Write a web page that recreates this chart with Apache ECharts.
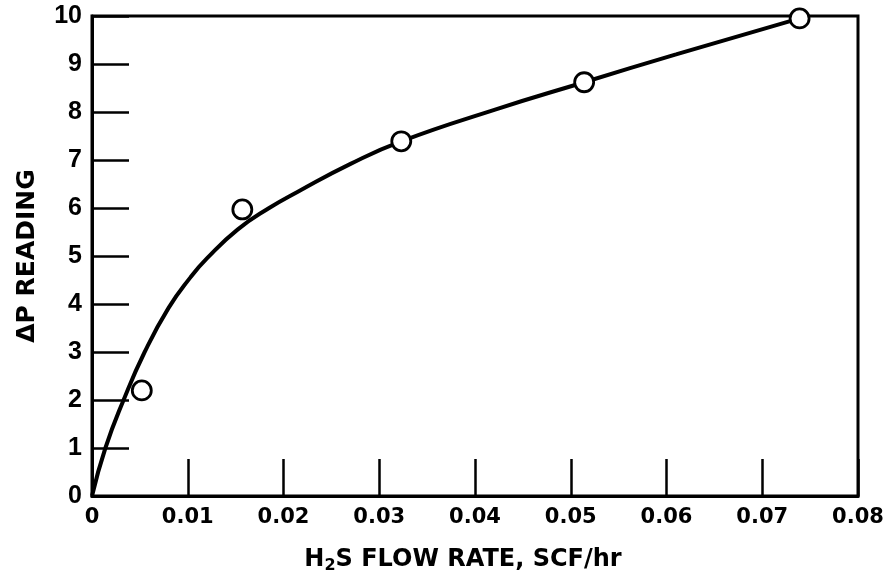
<!DOCTYPE html>
<html>
<head>
<meta charset="utf-8">
<script src="https://cdn.jsdelivr.net/npm/echarts@6/dist/echarts.min.js"></script>
<style>html,body{margin:0;padding:0;background:#fff;}#c{width:887px;height:579px;}</style>
</head>
<body>
<div id="c"></div>
<script>
// Measured data points (H2S flow rate, ΔP reading)
const pointX = [0.0052, 0.0157, 0.0323, 0.0514, 0.0739];
const pointY = [2.2, 5.97, 7.39, 8.62, 9.95];
// Fitted curve
const curveX = [0, 0.0014, 0.0033, 0.0055, 0.008, 0.0103, 0.012, 0.0152, 0.0185, 0.0215, 0.027, 0.0323, 0.0421, 0.0514, 0.061, 0.0739];
const curveY = [0, 1, 2, 3, 3.92, 4.56, 4.95, 5.55, 6.0, 6.34, 6.92, 7.39, 8.05, 8.62, 9.2, 9.95];
const xTicks = [0, 0.01, 0.02, 0.03, 0.04, 0.05, 0.06, 0.07, 0.08];
const yTicks = [0, 1, 2, 3, 4, 5, 6, 7, 8, 9, 10];

const wide = '"DejaVu Sans", Verdana, sans-serif';
const narrow = '"Liberation Sans", Arial, sans-serif';
const chart = echarts.init(document.getElementById('c'));
chart.setOption({
  backgroundColor: '#fff',
  animation: false,
  grid: {left: 92, right: 29, top: 16, bottom: 81, show: true, borderColor: '#000', borderWidth: 3},
  xAxis: {
    type: 'value', min: xTicks[0], max: xTicks[xTicks.length - 1], interval: 0.01,
    axisLine: {show: true, lineStyle: {color: '#000', width: 3}},
    axisTick: {show: true, inside: true, length: 37, lineStyle: {color: '#000', width: 2.5}},
    splitLine: {show: false},
    axisLabel: {color: '#000', fontFamily: wide, fontWeight: 'bold', fontSize: 21, margin: 11,
      formatter: v => (v === 0 ? '0' : v.toFixed(2))},
    name: '{a|H}{s|2}{a|S FLOW RATE, SCF/hr}',
    nameLocation: 'middle', nameGap: 49,
    nameTextStyle: {padding: [0, 24, 0, 0], rich: {
      a: {fontFamily: wide, fontSize: 24, fontWeight: 'bold', color: '#000'},
      s: {fontFamily: wide, fontSize: 16, fontWeight: 'bold', color: '#000', padding: [13, 0, 0, 0]}
    }}
  },
  yAxis: {
    type: 'value', min: yTicks[0], max: yTicks[yTicks.length - 1], interval: 1,
    axisLine: {show: true, lineStyle: {color: '#000', width: 3}},
    axisTick: {show: true, inside: true, length: 37, lineStyle: {color: '#000', width: 2.5}},
    splitLine: {show: false},
    axisLabel: {color: '#000', fontFamily: narrow, fontWeight: 'bold', fontSize: 25, margin: 10},
    name: 'ΔP READING', nameLocation: 'middle', nameGap: 52, nameRotate: 90,
    nameTextStyle: {fontFamily: wide, fontSize: 25, fontWeight: 'bold', color: '#000'}
  },
  series: [
    {
      type: 'line', data: curveX.map((x, i) => [x, curveY[i]]),
      smooth: 0.5, showSymbol: false, symbol: 'none',
      lineStyle: {color: '#000', width: 4}, z: 2
    },
    {
      type: 'scatter', data: pointX.map((x, i) => [x, pointY[i]]),
      symbol: 'circle', symbolSize: 19,
      itemStyle: {color: '#fff', borderColor: '#000', borderWidth: 2.8, opacity: 1}, z: 3
    }
  ]
});
</script>
</body>
</html>
